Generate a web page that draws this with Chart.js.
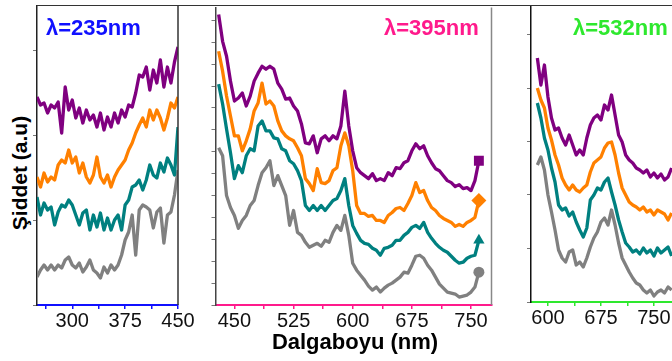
<!DOCTYPE html>
<html lang="tr">
<head>
<meta charset="UTF-8" />
<title>Emisyon spektrumları</title>
<script src="https://cdn.jsdelivr.net/npm/chart.js"></script>
<style>
  html, body {
    margin: 0;
    padding: 0;
    width: 672px;
    height: 361px;
    overflow: hidden;
    background: #fff;
    font-family: "Liberation Sans", Arial, sans-serif;
  }
  canvas { position: absolute; top: 0; }
  #topLine {
    position: absolute; left: 37px; top: 5px; width: 640px;
    border-top: 1.5px solid #333;
  }
  .lambda {
    position: absolute; top: 17px;
    font-weight: bold; font-size: 22px; line-height: 22px; white-space: nowrap;
  }
  #yTitle {
    position: absolute; left: -80px; top: 161px; width: 200px; height: 24px;
    line-height: 24px; text-align: center; font-weight: bold; font-size: 21px;
    transform: rotate(-90deg);
  }
  #xTitle {
    position: absolute; left: 255px; top: 331px; width: 200px;
    text-align: center; font-weight: bold; font-size: 22px; line-height: 22px;
  }
</style>
</head>
<body>
  <canvas id="p235" width="166" height="335" style="left:32px"></canvas>
  <canvas id="p395" width="291" height="335" style="left:208px"></canvas>
  <canvas id="p532" width="149" height="332" style="left:526px"></canvas>
  <div id="topLine"></div>
  <div class="lambda" style="left:46px;color:#1010ff">λ=235nm</div>
  <div class="lambda" style="left:384px;color:#ff1a8c">λ=395nm</div>
  <div class="lambda" style="left:573px;color:#2ee82e">λ=532nm</div>
  <div id="yTitle">Şiddet (a.u)</div>
  <div id="xTitle">Dalgaboyu (nm)</div>

<script>
// wavelengths (nm) of each emission scan
const wl235 = [250,255,260,265,270,275,280,285,290,295,300,305,310,315,320,325,330,335,340,345,350,355,360,365,370,375,380,385,390,395,400,405,410,415,420,425,430,435,440,445,450];
const wl395 = [430,435,440,445,450,455,460,465,470,475,480,485,490,495,500,505,510,515,520,525,530,535,540,545,550,555,560,565,570,575,580,585,590,595,600,605,610,615,620,625,630,635,640,645,650,655,660,665,670,675,680,685,690,695,700,705,710,715,720,725,730,735,740,745,750,755,760];
const wl532 = [585,590,595,600,605,610,615,620,625,630,635,640,645,650,655,660,665,670,675,680,685,690,695,700,705,710,715,720,725,730,735,740,745,750,755,760,765,770,775];

// intensities (a.u., stacked offsets) - excitation 235 nm
const purple235 = [208,200,202,192,200,197,203,172,218,195,205,187,197,182,195,185,190,178,192,175,188,178,192,182,195,188,200,198,212,230,228,238,215,235,222,245,218,238,222,243,258];
const orange235 = [128,118,132,123,128,125,140,145,142,155,142,148,132,142,128,122,130,148,128,122,130,118,128,135,140,145,155,162,172,180,187,178,195,185,195,187,175,187,202,197,208];
const teal235   = [108,90,102,95,98,80,93,100,98,105,100,90,80,92,95,75,90,78,92,75,87,75,85,90,75,100,105,118,120,125,115,125,140,130,127,142,133,147,140,130,178];
const gray235   = [28,35,40,35,40,35,40,37,45,48,40,37,42,33,38,45,35,32,27,38,32,40,35,40,50,65,73,90,50,95,100,98,95,77,93,97,62,90,93,110,135];

// excitation 395 nm
const purple395 = [292,265,250,225,205,208,213,200,210,225,233,240,237,240,237,223,217,207,208,200,195,182,163,162,170,153,167,170,165,170,167,180,215,180,155,138,133,130,127,132,125,127,125,133,130,138,137,143,145,155,162,157,160,150,143,137,135,130,125,123,119,121,117,118,115,125,145];
const orange395 = [255,235,210,190,170,170,155,165,177,195,203,223,202,205,200,185,175,170,167,165,158,150,127,122,115,137,123,122,125,135,138,160,173,160,135,100,92,92,89,90,85,85,83,90,93,97,98,95,102,110,123,113,115,105,98,95,90,87,85,83,79,81,79,83,85,88,105];
const teal395   = [222,202,177,153,127,140,133,150,157,155,180,185,175,175,168,167,157,155,145,142,135,125,100,95,100,95,100,95,100,105,107,115,127,100,80,72,65,62,61,57,55,50,57,58,60,65,65,70,73,78,80,77,83,73,67,62,58,55,53,49,45,42,43,47,49,50,65];
const gray395   = [158,150,110,98,90,77,85,90,100,105,120,133,138,145,120,130,120,110,80,95,73,70,63,58,60,62,59,65,63,73,80,75,90,70,42,35,30,25,19,15,18,13,17,20,22,25,28,33,32,40,49,50,47,40,35,28,21,17,13,12,11,8,9,10,13,18,33];

// excitation 532 nm
const purple532 = [244,217,237,205,184,172,174,164,157,167,157,147,152,147,164,177,184,187,182,197,192,207,187,167,160,147,142,139,134,132,129,132,125,129,124,128,122,125,134];
const orange532 = [214,202,194,174,162,147,137,124,117,112,117,112,110,114,117,130,139,142,145,154,159,160,147,129,114,107,100,97,95,92,95,90,92,87,92,90,88,82,89];
const teal532   = [199,184,164,152,134,120,97,92,94,86,90,80,72,65,74,102,107,114,112,120,124,110,97,82,70,59,55,50,52,48,54,49,52,46,54,49,52,55,46];
const gray532   = [137,145,132,107,90,72,52,44,40,50,52,37,40,35,44,55,64,70,80,84,77,92,77,59,44,37,30,24,19,17,12,9,12,6,10,12,9,15,12];

const lineColors = ['#800080', '#ff8000', '#008080', '#808080'];
const markerStyles = ['rect', 'rectRot', 'triangle', 'circle'];
const markerSizes = [7, 7.5, 6.5, 5.5];
const fontFamily = '"Liberation Sans", Arial, sans-serif';

// vertical line closing the plot on the right
const frameLine = {
  id: 'frameLine',
  afterDraw(chart, args, opts) {
    if (!opts.color) return;
    const { ctx, chartArea: a } = chart;
    ctx.save();
    ctx.strokeStyle = opts.color;
    ctx.lineWidth = 1.5;
    ctx.beginPath();
    ctx.moveTo(a.right, a.top);
    ctx.lineTo(a.right, a.bottom);
    ctx.stroke();
    ctx.restore();
  }
};

function makePanel(id, wl, series, o) {
  new Chart(document.getElementById(id), {
    type: 'line',
    data: {
      datasets: series.map((vals, i) => ({
        data: vals.map((v, k) => ({ x: wl[k], y: v })),
        borderColor: lineColors[i],
        backgroundColor: lineColors[i],
        borderWidth: 3.3,
        borderJoinStyle: 'round',
        tension: 0,
        pointStyle: markerStyles[i],
        pointRadius: c => (o.markers && c.dataIndex === vals.length - 1) ? markerSizes[i] : 0,
        pointBorderWidth: 0
      }))
    },
    options: {
      responsive: false,
      animation: false,
      layout: { padding: { top: o.top, right: o.padRight, left: 0, bottom: 0 } },
      plugins: {
        legend: { display: false },
        tooltip: { enabled: false },
        frameLine: { color: o.rightColor }
      },
      scales: {
        x: {
          type: 'linear',
          min: o.xMin,
          max: o.xMax,
          afterFit: s => { s.height = 30; },
          border: { color: o.axisColor, width: 2 },
          grid: { drawOnChartArea: false, color: o.axisColor, tickLength: 4, lineWidth: 1.5 },
          ticks: {
            stepSize: 37.5,
            includeBounds: false,
            autoSkip: false,
            maxRotation: 0,
            minRotation: 0,
            padding: 0,
            color: '#111',
            font: { family: fontFamily, size: 20 },
            callback: v => (v % 75 === 0 ? v : '')
          }
        },
        y: {
          min: 0,
          max: o.yMax,
          afterFit: s => { s.width = 5; },
          border: { color: o.leftColor, width: 1.5 },
          grid: { drawOnChartArea: false, color: '#777', tickLength: 4 },
          ticks: { display: false, stepSize: o.yStep, includeBounds: false }
        }
      }
    },
    plugins: [frameLine]
  });
}

makePanel('p235', wl235, [purple235, orange235, teal235, gray235], {
  xMin: 250, xMax: 450, yMax: 299, yStep: 85, top: 6, padRight: 20,
  axisColor: '#1010ff', leftColor: '#222', rightColor: '#333', markers: false
});
makePanel('p395', wl395, [purple395, orange395, teal395, gray395], {
  xMin: 426, xMax: 776, yMax: 299, yStep: 22, top: 6, padRight: 4,
  axisColor: '#ff1a8c', leftColor: '#444', rightColor: '#888', markers: true
});
makePanel('p532', wl532, [purple532, orange532, teal532, gray532], {
  xMin: 576, xMax: 777, yMax: 295, yStep: 53.5, top: 7, padRight: 2,
  axisColor: '#2ee82e', leftColor: '#111', rightColor: null, markers: false
});
</script>
</body>
</html>
